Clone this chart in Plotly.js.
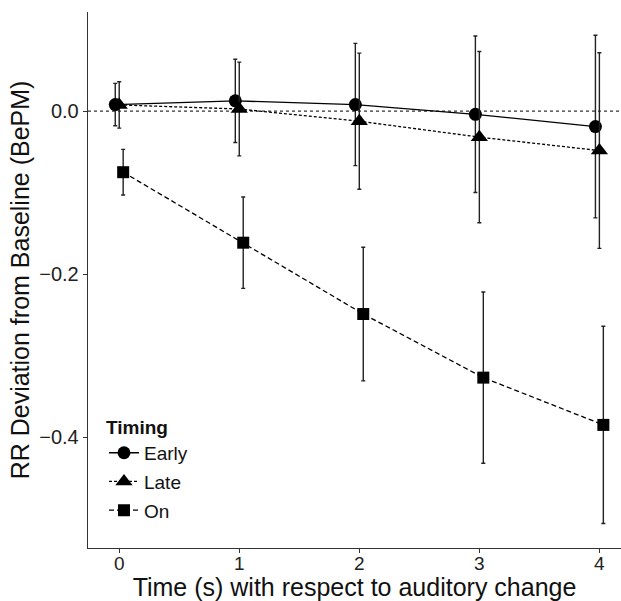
<!DOCTYPE html>
<html>
<head>
<meta charset="utf-8">
<script src="https://cdn.plot.ly/plotly-3.0.1.min.js"></script>
<style>html,body{margin:0;padding:0;background:#fff;}#chart{width:621px;height:601px;}</style>
</head>
<body>
<div id="chart"></div>
<script>
// Data
const times = [0, 1, 2, 3, 4];
const seriesNames = ["Early", "Late", "On"];
const earlyMean = [0.008, 0.0125, 0.008, -0.004, -0.019];
const earlyErr  = [0.026, 0.051, 0.075, 0.096, 0.112];
const lateMean  = [0.0075, 0.0025, -0.0125, -0.032, -0.0485];
const lateErr   = [0.0285, 0.0575, 0.0835, 0.105, 0.12];
const onMean    = [-0.075, -0.1615, -0.249, -0.327, -0.385];
const onErr     = [0.028, 0.056, 0.082, 0.105, 0.121];
const xTickVals = [0, 1, 2, 3, 4];
const yTickVals = [-0.4, -0.2, 0.0];
const yTickText = ["\u22120.4", "\u22120.2", "0.0"];

const styles = {
  Early: {dodge: -0.033, symbol: "circle", size: 13, dash: "solid"},
  Late:  {dodge: 0.0,    symbol: "triangle-up", size: 15, dash: "3px,2px"},
  On:    {dodge: 0.033,  symbol: "square", size: 12, dash: "5px,3px"}
};
const means = {Early: earlyMean, Late: lateMean, On: onMean};
const errs = {Early: earlyErr, Late: lateErr, On: onErr};

const traces = seriesNames.map(name => {
  const s = styles[name];
  return {
    type: "scatter",
    mode: "lines+markers",
    name: name,
    legendgroup: name,
    x: times.map(t => t + s.dodge),
    y: means[name],
    line: {color: "#000", width: 1.3, dash: s.dash},
    marker: {color: "#000", symbol: s.symbol, size: s.size},
    error_y: {type: "data", array: errs[name], visible: true, color: "#222", thickness: 1.4, width: 2}
  };
});

const font = "Liberation Sans, Arial, Helvetica, sans-serif";
const layout = {
  width: 621, height: 601,
  margin: {l: 88, r: 0, t: 12, b: 53},
  paper_bgcolor: "#fff", plot_bgcolor: "#fff",
  font: {family: font, color: "#111", size: 19},
  showlegend: true,
  legend: {
    x: 0.03, y: 0.259, xanchor: "left", yanchor: "top",
    bgcolor: "rgba(0,0,0,0)",
    font: {family: font, size: 19, color: "#111"},
    title: {text: "<b>Timing</b>", font: {family: font, size: 19, color: "#111"}},
    tracegroupgap: 1,
    itemwidth: 30
  },
  xaxis: {
    range: [-0.26, 4.18],
    tickvals: xTickVals,
    ticktext: xTickVals.map(String),
    showgrid: false, zeroline: false,
    showline: true, linecolor: "#333", linewidth: 1.3,
    ticks: "outside", ticklen: 4, tickcolor: "#333", tickwidth: 1.1,
    ticklabelstandoff: -6,
    tickfont: {family: font, size: 19, color: "#222"},
    title: {text: "Time (s) with respect to auditory change", font: {family: font, size: 25, color: "#111"}, standoff: 2},
    automargin: false
  },
  yaxis: {
    range: [-0.536, 0.1215],
    tickvals: yTickVals,
    ticktext: yTickText,
    showgrid: false, zeroline: false,
    showline: true, linecolor: "#333", linewidth: 1.3,
    ticks: "outside", ticklen: 4, tickcolor: "#333", tickwidth: 1.1,
    tickfont: {family: font, size: 20, color: "#222"},
    title: {text: "RR Deviation from Baseline (BePM)", font: {family: font, size: 25, color: "#111"}, standoff: 2},
    automargin: false
  },
  shapes: [{
    type: "line", xref: "paper", yref: "y", x0: 0, x1: 1, y0: 0, y1: 0,
    line: {color: "#333", width: 1.2, dash: "dot"}, layer: "below"
  }]
};

Plotly.newPlot("chart", traces, layout, {displayModeBar: false, staticPlot: true});
</script>
</body>
</html>
